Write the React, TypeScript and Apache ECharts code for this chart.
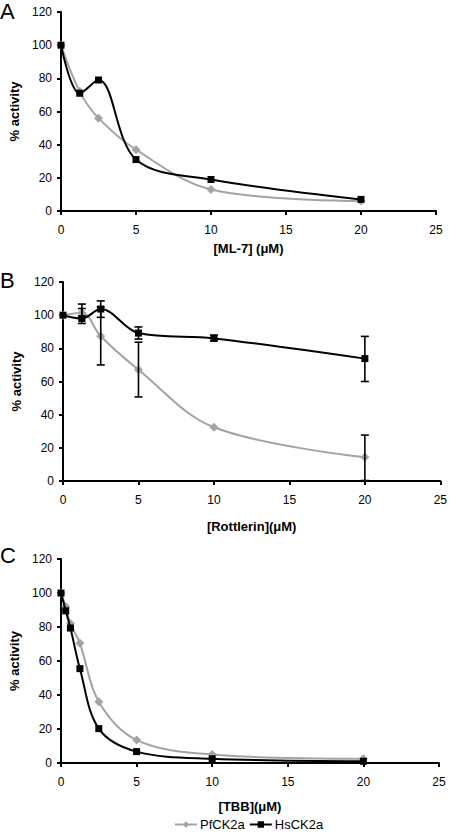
import React, { useEffect, useRef } from "react";
import * as echarts from "echarts";

// Panel A: ML-7
const concA = [0, 1.25, 2.5, 5, 10, 20];
const pfA = [100, 72, 56, 37, 13, 6];
const hsA = [100, 71, 79, 31, 19, 7];

// Panel B: Rottlerin
const concB = [0, 1.25, 2.5, 5, 10, 20];
const pfB = [100, 101.5, 87.3, 67.1, 32.4, 14.3];
const hsB = [100, 98, 103.7, 89.2, 86, 73.8];
const pfBLow = [100, 99.5, 70, 50.7, 32.4, 0.3];
const pfBHigh = [100, 104, 104.8, 83.7, 32.4, 27.7];
const hsBLow = [100, 95, 98.7, 85.6, 84.5, 60];
const hsBHigh = [100, 106.7, 108.6, 92.9, 88, 87.2];

// Panel C: TBB
const concC = [0, 0.3125, 0.625, 1.25, 2.5, 5, 10, 20];
const pfC = [100, 92, 82, 70.4, 36, 13.5, 5, 2.5];
const hsC = [100, 89.5, 79.4, 55.5, 20.2, 6.7, 2.5, 1];

const seriesNames = ["PfCK2a", "HsCK2a"];
const xTitles = ["[ML-7] (\u03bcM)", "[Rottlerin](\u03bcM)", "[TBB](\u03bcM)"];
const yTitle = "% activity";
const panelLetters = ["A", "B", "C"];

const FONT = "'Liberation Sans', Arial, sans-serif";
const GRAY = "#a3a3a3";
const BLACK = "#000000";

const grids = [
  { left: 61, top: 12, width: 375, height: 199 },
  { left: 63, top: 282, width: 379, height: 199 },
  { left: 61, top: 559, width: 378, height: 204 },
];
const nameGaps = [31, 39, 37];

function pairs(xs: number[], ys: number[]) {
  return xs.map((x, i) => [x, ys[i]]);
}

function errData(xs: number[], lo: number[], hi: number[]) {
  return xs.map((x, i) => [x, lo[i], hi[i]]);
}

const errRender = (params: any, api: any) => {
  const x = api.value(0);
  const lo = api.value(1);
  const hi = api.value(2);
  if (hi - lo < 0.01) return null;
  const pLo = api.coord([x, lo]);
  const pHi = api.coord([x, hi]);
  const cap = 4;
  const style = { stroke: BLACK, lineWidth: 1.6 };
  return {
    type: "group",
    children: [
      { type: "line", shape: { x1: pLo[0], y1: pLo[1], x2: pHi[0], y2: pHi[1] }, style },
      { type: "line", shape: { x1: pLo[0] - cap, y1: pLo[1], x2: pLo[0] + cap, y2: pLo[1] }, style },
      { type: "line", shape: { x1: pHi[0] - cap, y1: pHi[1], x2: pHi[0] + cap, y2: pHi[1] }, style },
    ],
  };
};

export default function App() {
  const ref = useRef<HTMLDivElement>(null);
  useEffect(() => {
    if (!ref.current) return;
    const chart = echarts.init(ref.current, undefined, { renderer: "svg" });

    const xAxis = grids.map((_, i) => ({
      type: "value",
      gridIndex: i,
      min: 0,
      max: 25,
      interval: 5,
      name: xTitles[i],
      nameLocation: "middle",
      nameGap: nameGaps[i],
      nameTextStyle: { fontFamily: FONT, fontSize: 13, fontWeight: "bold", color: BLACK },
      axisLine: { show: true, onZero: false, lineStyle: { color: BLACK, width: 2 } },
      axisTick: { show: true, length: 4, lineStyle: { color: BLACK, width: 2 } },
      axisLabel: { fontFamily: FONT, fontSize: 12, color: BLACK, margin: 13 },
      splitLine: { show: false },
    }));
    const yAxis = grids.map((_, i) => ({
      type: "value",
      gridIndex: i,
      min: 0,
      max: 120,
      interval: 20,
      name: yTitle,
      nameLocation: "middle",
      nameGap: 40,
      nameTextStyle: { fontFamily: FONT, fontSize: 13, fontWeight: "bold", color: BLACK },
      axisLine: { show: true, onZero: false, lineStyle: { color: BLACK, width: 2 } },
      axisTick: { show: true, length: 4, lineStyle: { color: BLACK, width: 2 } },
      axisLabel: { fontFamily: FONT, fontSize: 12, color: BLACK, margin: 9 },
      splitLine: { show: false },
    }));

    const lineSeries = (name: string, idx: number, data: number[][], isPf: boolean) => ({
      name,
      type: "line",
      xAxisIndex: idx,
      yAxisIndex: idx,
      data,
      smooth: 0.35,
      symbol: isPf ? "diamond" : "rect",
      symbolSize: isPf ? 9 : 7,
      lineStyle: { color: isPf ? GRAY : BLACK, width: 2 },
      itemStyle: { color: isPf ? GRAY : BLACK },
      z: isPf ? 2 : 3,
    });

    const option: any = {
      animation: false,
      backgroundColor: "#ffffff",
      grid: grids.map((g) => ({ ...g, containLabel: false })),
      xAxis,
      yAxis,
      legend: {
        data: seriesNames,
        left: 174,
        top: 818,
        padding: 0,
        itemWidth: 22,
        itemHeight: 8,
        itemGap: 4,
        textStyle: { fontFamily: FONT, fontSize: 13, color: BLACK, padding: [0, 0, 0, -2] },
      },
      graphic: panelLetters.map((t, i) => ({
        type: "text",
        left: 0,
        top: [0, 269, 544][i],
        style: { text: t, font: `22px ${FONT}`, fill: BLACK },
      })),
      series: [
        lineSeries(seriesNames[0], 0, pairs(concA, pfA), true),
        lineSeries(seriesNames[1], 0, pairs(concA, hsA), false),
        lineSeries(seriesNames[0], 1, pairs(concB, pfB), true),
        lineSeries(seriesNames[1], 1, pairs(concB, hsB), false),
        {
          name: "pfErr",
          type: "custom",
          xAxisIndex: 1,
          yAxisIndex: 1,
          data: errData(concB, pfBLow, pfBHigh),
          renderItem: errRender,
          encode: { x: 0, y: [1, 2] },
          z: 4,
        },
        {
          name: "hsErr",
          type: "custom",
          xAxisIndex: 1,
          yAxisIndex: 1,
          data: errData(concB, hsBLow, hsBHigh),
          renderItem: errRender,
          encode: { x: 0, y: [1, 2] },
          z: 4,
        },
        lineSeries(seriesNames[0], 2, pairs(concC, pfC), true),
        lineSeries(seriesNames[1], 2, pairs(concC, hsC), false),
      ],
    };
    chart.setOption(option);
    return () => chart.dispose();
  }, []);

  return (
    <div
      ref={ref}
      style={{ position: "fixed", left: 0, top: 0, width: 450, height: 833, background: "#fff" }}
    />
  );
}
